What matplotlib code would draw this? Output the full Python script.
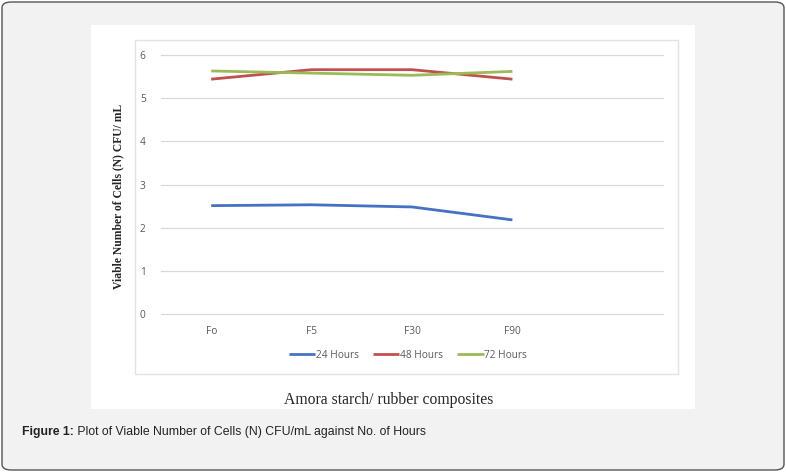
import matplotlib
matplotlib.use("Agg")
import matplotlib.pyplot as plt
from matplotlib.patches import FancyBboxPatch, Rectangle
from matplotlib import font_manager

OUTPUT_PNG_PATH = "out.png"

# chart data
categories = ["Fo", "F5", "F30", "F90", ""]
hours_24 = [2.51, 2.53, 2.48, 2.18]
hours_48 = [5.44, 5.66, 5.66, 5.44]
hours_72 = [5.63, 5.58, 5.53, 5.62]
series_labels = ["24 Hours", "48 Hours", "72 Hours"]
y_ticks = [0, 1, 2, 3, 4, 5, 6]

COLORS = ["#4472c4", "#c0504d", "#9bbb59"]
TICK_GRAY = "#595959"

AXIS_LABEL_Y = "Viable Number of Cells (N) CFU/ mL"
AXIS_LABEL_X = "Amora starch/ rubber composites"
CAPTION_BOLD = "Figure 1:"
CAPTION_REST = " Plot of Viable Number of Cells (N) CFU/mL against No. of Hours"

installed = {f.name for f in font_manager.fontManager.ttflist}
if "Liberation Sans Narrow" in installed:
    narrow, cap_size = "Liberation Sans Narrow", 9.5
else:
    narrow, cap_size = "Liberation Sans", 8.8
tick_font = "Open Sans"
tick_size = 7.3
serif = "Liberation Serif"

W, H = 786, 473
fig = plt.figure(figsize=(W / 100, H / 100), dpi=100)
fig.patch.set_facecolor("white")


def fx(px):
    return px / W


def fy(py):
    return 1 - py / H


# outer page panel with rounded border
panel = FancyBboxPatch((fx(2), fy(470)), fx(782), 468 / H,
                       boxstyle="round,pad=0,rounding_size=0.012",
                       transform=fig.transFigure, facecolor="#f2f2f2",
                       edgecolor="#555555", linewidth=1.0, zorder=0)
fig.patches.append(panel)

# white image area
fig.patches.append(Rectangle((fx(91), fy(409)), fx(604), 384 / H,
                             transform=fig.transFigure, facecolor="white",
                             edgecolor="none", zorder=1))
# chart frame
fig.patches.append(Rectangle((fx(135), fy(374)), fx(543), 334 / H,
                             transform=fig.transFigure, facecolor="none",
                             edgecolor="#e3e3e3", linewidth=1.0, zorder=2))

ax = fig.add_axes([fx(161), fy(314), fx(502), 259 / H])
ax.set_facecolor("none")
ax.set_zorder(5)

x = list(range(len(hours_24)))
series = [hours_24, hours_48, hours_72]
for vals, col, lab in zip(series, COLORS, series_labels):
    ax.plot(x, vals, color=col, linewidth=2.0, label=lab, zorder=3,
            solid_capstyle="butt")

ax.set_xlim(-0.5, len(categories) - 0.5)
ax.set_ylim(0, 6)
ax.set_xticks(range(len(categories)))
ax.set_xticklabels(categories, fontfamily=tick_font, fontsize=tick_size, color=TICK_GRAY)
ax.set_yticks(y_ticks)
ax.set_yticklabels([str(t) for t in y_ticks], fontfamily=tick_font,
                   fontsize=tick_size, color=TICK_GRAY)
ax.tick_params(axis="both", length=0)
ax.tick_params(axis="x", pad=9)
ax.tick_params(axis="y", pad=11)
ax.grid(axis="y", color="#d9d9d9", linewidth=0.9, zorder=0)
for gl in ax.get_ygridlines():
    gl.set_clip_on(False)
for sp in ax.spines.values():
    sp.set_visible(False)

leg = ax.legend(loc="center", bbox_to_anchor=(fx(408 - 161) / fx(502), (314 - 355) / 259),
                ncol=3, frameon=False, handlelength=2.6, handletextpad=0.05,
                columnspacing=1.4, prop={"family": tick_font, "size": tick_size})
for t in leg.get_texts():
    t.set_color(TICK_GRAY)

fig.text(fx(118), fy(196), AXIS_LABEL_Y, rotation=90, ha="center", va="center",
         fontfamily=serif, fontweight="bold", fontsize=8.4, color="#262626",
         zorder=6)
fig.text(fx(389), fy(400), AXIS_LABEL_X, ha="center", va="center",
         fontfamily=serif, fontsize=11.3, color="#262626", zorder=6)

cap = fig.text(fx(22), fy(432), CAPTION_BOLD, ha="left", va="center",
               fontfamily=narrow, fontweight="bold", fontsize=cap_size,
               color="#222222", zorder=6)
fig.canvas.draw()
bb = cap.get_window_extent()
fig.text(bb.x1 / fig.dpi / fig.get_figwidth(), fy(432), CAPTION_REST, ha="left",
         va="center", fontfamily=narrow, fontsize=cap_size, color="#222222",
         zorder=6)

fig.savefig(OUTPUT_PNG_PATH, dpi=100)
